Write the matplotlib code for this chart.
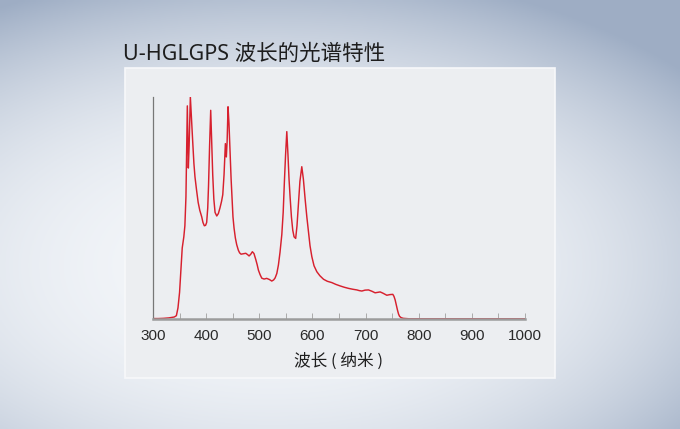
import numpy as np
import matplotlib.pyplot as plt
from matplotlib.patches import Rectangle

# spectrum (nm, relative intensity %)
wavelength = [300, 310, 320, 330, 340, 344, 347, 350, 353, 355, 358, 360, 362, 364.6, 366.5, 368,
              370.3, 372, 374.7, 377, 379, 382, 385, 388, 391.7, 394, 396.6, 399, 401, 403, 404.5,
              406.5, 408.6, 410.5, 412.4, 414.5, 416.8, 420, 423, 426, 429, 431.3, 433.7, 436.2,
              438, 439.5, 441.2, 443, 445, 447, 448.8, 450.5, 452.5, 455, 457.5, 460.6, 463, 465.7,
              470, 474.6, 478, 480.8, 484, 487, 490, 493.4, 496, 498.4, 501.5, 504.7, 509, 514, 519,
              523.5, 527, 529.8, 533, 536, 539, 542.4, 545, 547.3, 549.5, 551.8, 554, 556, 558,
              560.5, 563, 565.5, 568.5, 571, 573.6, 576.5, 580, 583, 586.3, 589.5, 592.5, 595.5,
              598.9, 603, 608.3, 614, 620.9, 628, 636.5, 644, 652.2, 660, 667.9, 676, 683.6, 688,
              693, 699, 705.5, 712, 718, 723, 727.5, 733, 740, 746, 751.3, 753.5, 755.7, 758, 760,
              762, 764, 767, 771, 776, 782, 790, 800, 850, 900, 950, 1000]
intensity = [0.2, 0.2, 0.3, 0.5, 0.9, 1.5, 5, 12, 24, 32, 37, 42, 55, 96, 68, 78,
             100, 92, 80, 70, 64, 58, 52.5, 49, 46, 43.5, 42, 42.2, 43.5, 50, 60,
             78, 94, 80, 65, 54, 48, 46.4, 47.5, 50, 53, 56, 65, 79,
             73, 80, 95.6, 88, 75, 63, 54, 46, 41, 36.5, 33.5, 31, 29.8, 29.2,
             29.4, 29.6, 29, 28.4, 29.2, 30.3, 29.5, 26.8, 24.5, 22, 20, 18.4, 18, 18.3, 17.8,
             17.1, 17.6, 18.5, 20.5, 24.3, 30, 38, 48, 62, 74, 84.4, 74, 63, 55,
             46, 40, 37, 36.3, 42, 51.4, 62, 68.6, 63, 54, 46, 39.5, 33,
             28.1, 24, 21.3, 19.5, 17.9, 17, 16.4, 15.6, 14.9, 14.3, 13.8, 13.4, 13.1, 12.8,
             12.6, 13, 13.1, 12.5, 11.8, 12, 12.2, 11.6, 10.7, 11, 11.1, 10.2, 8.6, 6.2, 4.1,
             2.3, 1.2, 0.6, 0.3, 0.2, 0.1, 0.1, 0.1, 0.1, 0.1, 0.1, 0.1]
x_ticks = [300, 400, 500, 600, 700, 800, 900, 1000]

title = "U-HGLGPS 波长的光谱特性"
x_label = "波长 ( 纳米 )"

fig = plt.figure(figsize=(6.8, 4.29), dpi=100)

# background vignette + light panel, drawn in a full-figure axes underneath
bg = fig.add_axes([0, 0, 1, 1], zorder=0)
yy, xx = np.mgrid[0:1:200j, 0:1:320j]
d = np.sqrt(((xx - 0.40) / 0.80) ** 2 + ((yy - 0.62) / 0.70) ** 2)
t = np.clip(d, 0, 1) ** 2.6
light = np.array([0.955, 0.965, 0.978])
dark = np.array([0.62, 0.68, 0.77])
img = light * (1 - t[..., None]) + dark * t[..., None]
bg.imshow(img, extent=[0, 1, 0, 1], aspect='auto', origin='upper')
bg.add_patch(Rectangle((0.1838, 0.1189), 0.6324, 0.7226, facecolor='#eceef1',
                       edgecolor='#f7f8fa', linewidth=1.2))
bg.set_xlim(0, 1)
bg.set_ylim(0, 1)
bg.axis('off')

fig.text(0.181, 0.874, title, fontsize=15.5, color='#1e1e1e', va='center', ha='left',
         family=['Noto Sans', 'Noto Sans CJK SC'])

ax = fig.add_axes([0.225, 0.2564, 0.547, 0.5175], zorder=2)
ax.patch.set_alpha(0)
ax.plot(wavelength, intensity, color='#d7202e', linewidth=1.05, solid_joinstyle='round')
ax.set_xlim(300, 1000)
ax.set_ylim(0, 100)

for side in ['top', 'right']:
    ax.spines[side].set_visible(False)
ax.spines['left'].set_color('#777777')
ax.spines['left'].set_linewidth(0.9)
ax.spines['bottom'].set_color('#9c9c9c')
ax.spines['bottom'].set_linewidth(1.8)

ax.set_yticks([])
ax.set_xticks(x_ticks)
ax.set_xticks(np.arange(350, 1000, 100), minor=True)
ax.tick_params(axis='x', which='both', direction='in', length=4, width=0.7, color='#aaaaaa',
               pad=7)
ax.set_xticklabels([str(v) for v in x_ticks], fontsize=11, color='#2a2a2a',
                   family=['Liberation Sans Narrow', 'DejaVu Sans Condensed', 'Liberation Sans'])
ax.set_xlabel(x_label, fontsize=12, color='#1e1e1e', labelpad=7,
              family=['Noto Sans CJK SC', 'DejaVu Sans'])

fig.savefig('out.png', dpi=100)
plt.close(fig)
